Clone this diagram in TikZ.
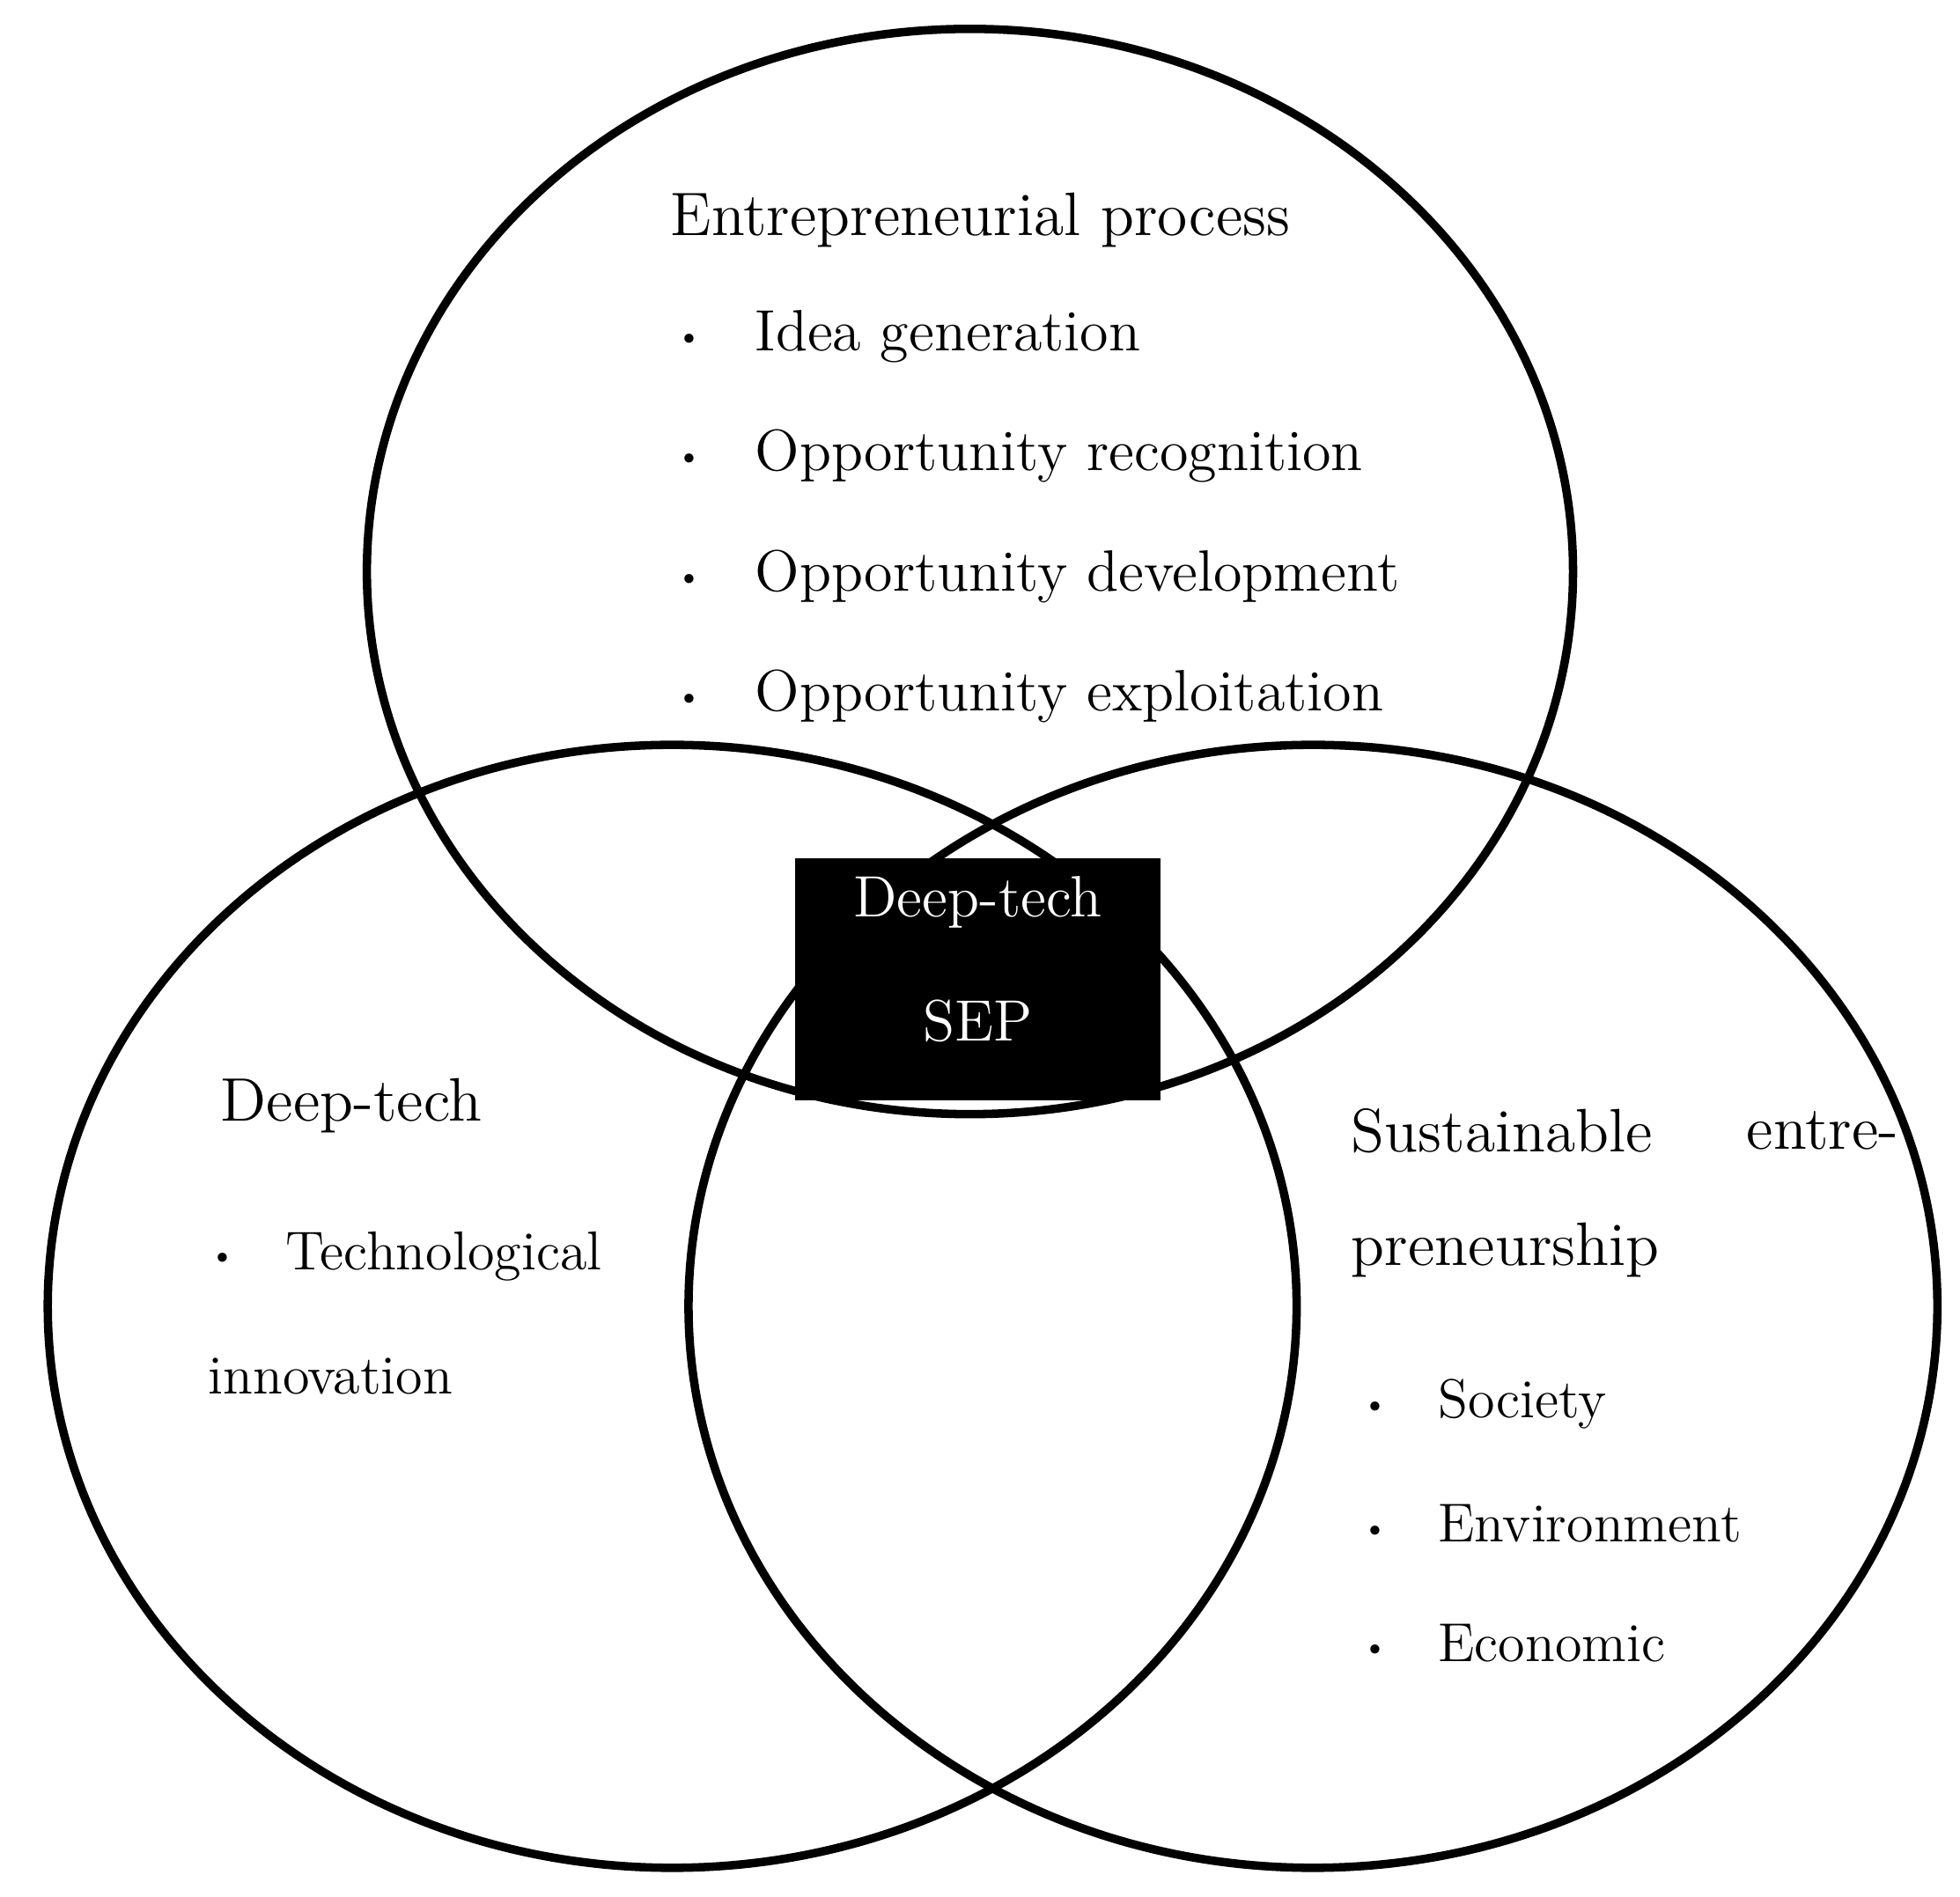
\documentclass[tikz,border=0pt]{standalone}
\usepackage{tikz}
\newcommand{\blt}{\raisebox{.2ex}{\scriptsize\textbullet}\hspace{0.9em}}
\begin{document}
\begin{tikzpicture}
  [x=0.01cm,y=-0.01cm,
   every node/.style={anchor=west,inner sep=0pt,font=\fontsize{13.2}{15}\selectfont},
   head/.style={font=\fontsize{13.9}{16}\selectfont},
   small/.style={font=\fontsize{12.4}{14}\selectfont},
   ring/.style={line width=1.9pt}]
  \useasboundingbox (0,0) rectangle (1560,1510);
  \draw[ring] (772,455) ellipse [x radius=480, y radius=432];
  \draw[ring] (535,1040) ellipse [x radius=497, y radius=447];
  \draw[ring] (1045,1040) ellipse [x radius=497, y radius=447];

  \fill (633,683) rectangle (924,876);
  \node[anchor=center,text=white] (core1) at (778,718) {Deep-tech};
  \node[anchor=center,text=white] (core2) at (778,813) {SEP};

  \node[head] (ep) at (533,175) {Entrepreneurial process};
  \node (ep1) at (537,268) {\blt Idea generation};
  \node (ep2) at (537,363) {\blt Opportunity recognition};
  \node (ep3) at (537,459) {\blt Opportunity development};
  \node (ep4) at (537,554) {\blt Opportunity exploitation};

  \node[head] (dt) at (175,880) {Deep-tech};
  \node[small] (dt1) at (166,1000) {\blt Technological};
  \node[small] (dt2) at (165,1096) {innovation};

  \node[head] (se) at (1075,900) {Sustainable};
  \node[head,anchor=east] (se2) at (1512,900) {entre-};
  \node[head] (se3) at (1075,995) {preneurship};
  \node[small] (se4) at (1083,1118) {\blt Society};
  \node[small] (se5) at (1083,1213) {\blt Environment};
  \node[small] (se6) at (1083,1308) {\blt Economic};
\end{tikzpicture}
\end{document}
